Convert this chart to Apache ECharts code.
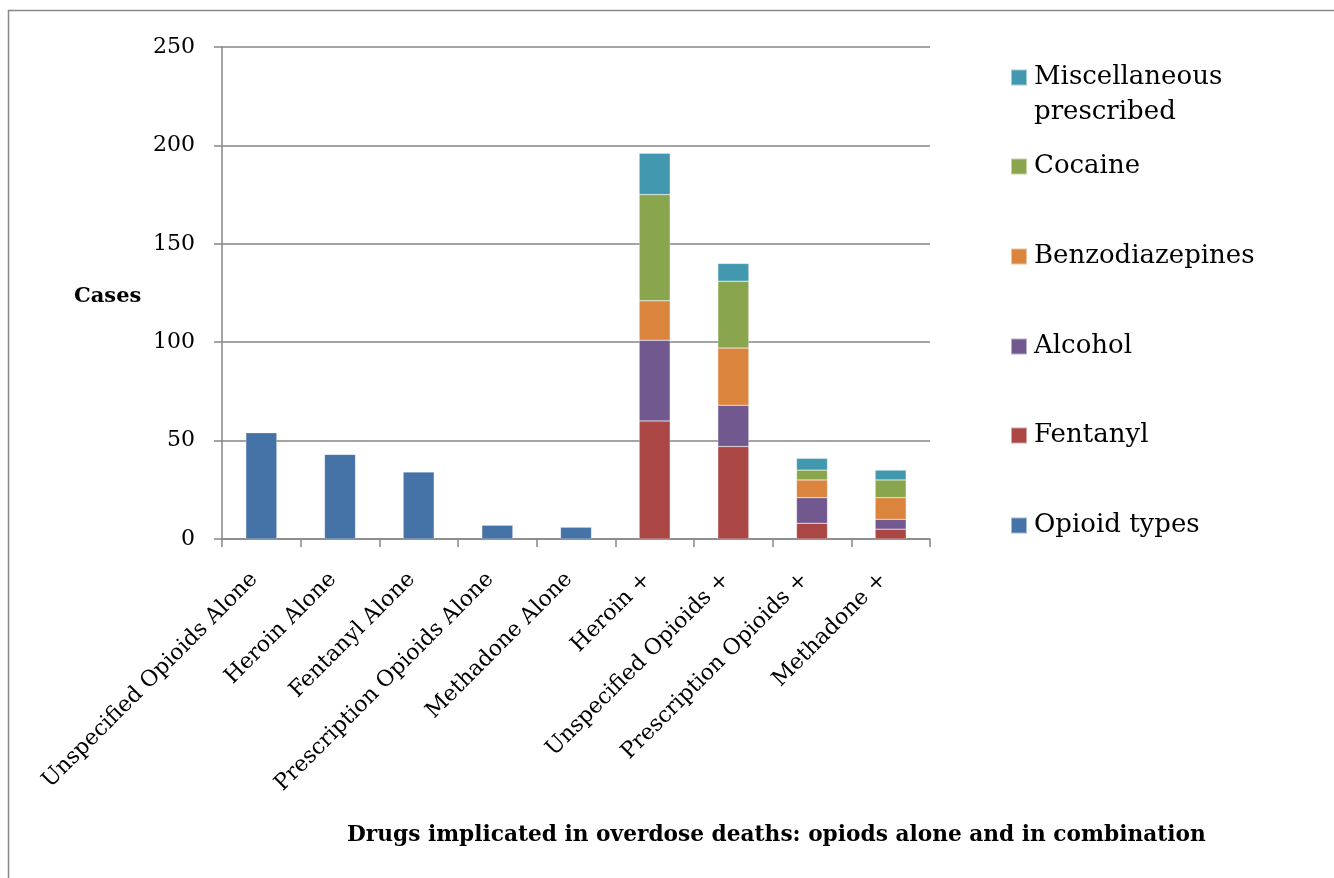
<!DOCTYPE html>
<html>
<head>
<meta charset="utf-8">
<script src="https://cdn.jsdelivr.net/npm/echarts@6/dist/echarts.min.js"></script>
<style>
html,body{margin:0;padding:0;background:#fff;}
#chart{width:1334px;height:878px;}
</style>
</head>
<body>
<div id="chart"></div>
<script>
var categories = ["Unspecified Opioids Alone","Heroin Alone","Fentanyl Alone","Prescription Opioids Alone","Methadone Alone","Heroin +","Unspecified Opioids +","Prescription Opioids +","Methadone +"];
var opioidTypes = [54, 43, 34, 7, 6, null, null, null, null];
var fentanyl = [null, null, null, null, null, 60, 47, 8, 5];
var alcohol = [null, null, null, null, null, 41, 21, 13, 5];
var benzodiazepines = [null, null, null, null, null, 20, 29, 9, 11];
var cocaine = [null, null, null, null, null, 54, 34, 5, 9];
var miscPrescribed = [null, null, null, null, null, 21, 9, 6, 5];
var yTicks = [0, 50, 100, 150, 200, 250];

var FONT = "DejaVu Serif";
var seriesDefs = [
  {name: "Opioid types", data: opioidTypes, color: "#4572A7"},
  {name: "Fentanyl", data: fentanyl, color: "#AA4643"},
  {name: "Alcohol", data: alcohol, color: "#71588F"},
  {name: "Benzodiazepines", data: benzodiazepines, color: "#DB843D"},
  {name: "Cocaine", data: cocaine, color: "#89A54E"},
  {name: "Miscellaneous prescribed", data: miscPrescribed, color: "#4198AF"}
];
var legendTops = {"Miscellaneous prescribed": 60, "Cocaine": 149, "Benzodiazepines": 239, "Alcohol": 329, "Fentanyl": 418, "Opioid types": 508};
var MISC = "Miscellaneous prescribed";

var chart = echarts.init(document.getElementById('chart'), null, {renderer: 'canvas'});
var option = {
  animation: false,
  backgroundColor: '#fff',
  textStyle: {fontFamily: FONT, color: '#000'},
  graphic: [{
    type: 'rect', shape: {x: 8.5, y: 10.5, width: 1500, height: 1000},
    style: {fill: 'none', stroke: '#888', lineWidth: 1.5}, silent: true, z: -1
  }],
  title: [{
    text: "Drugs implicated in overdose deaths: opiods alone and in combination",
    left: 347, top: 824, padding: 0,
    textStyle: {fontFamily: FONT, fontWeight: 'bold', fontSize: 21.7, color: '#000'}
  }, {
    text: "Cases", left: 74, top: 286, padding: 0,
    textStyle: {fontFamily: FONT, fontWeight: 'bold', fontSize: 21, color: '#000'}
  }],
  legend: seriesDefs.map(function (s) {
    var isMisc = s.name === MISC;
    return {
      data: [s.name], left: 1010, top: legendTops[s.name], orient: 'vertical', padding: 0,
      itemWidth: 16, itemHeight: isMisc ? 51 : 16, itemGap: 8,
      icon: isMisc ? 'path://M0,0L16,0L16,16L0,16Z M0,50.9L0.05,50.9L0.05,51L0,51Z' : 'rect',
      selectedMode: false,
      formatter: function (n) { return n === MISC ? "Miscellaneous\nprescribed" : n; },
      textStyle: {fontFamily: FONT, fontSize: 26, color: '#000', lineHeight: 35, padding: [0, 0, 0, 2]}
    };
  }),
  grid: {left: 222, right: 404, top: 47, bottom: 339, containLabel: false},
  xAxis: {
    type: 'category', data: categories,
    axisLine: {lineStyle: {color: '#868686', width: 1.5}},
    axisTick: {show: true, length: 8, lineStyle: {color: '#868686', width: 1.5}},
    axisLabel: {rotate: 45, fontFamily: FONT, fontSize: 22, color: '#000', margin: 30, padding: [0, 10, 0, 0], interval: 0}
  },
  yAxis: {
    type: 'value', min: yTicks[0], max: yTicks[yTicks.length - 1], interval: 50,
    axisLine: {show: true, lineStyle: {color: '#868686', width: 1.5}},
    axisTick: {show: true, length: 8, lineStyle: {color: '#868686', width: 1.5}},
    splitLine: {lineStyle: {color: '#868686', width: 1.5}},
    axisLabel: {fontFamily: FONT, fontSize: 22, color: '#000', margin: 27}
  },
  series: seriesDefs.map(function (s) {
    return {
      name: s.name, type: 'bar', stack: 'total', data: s.data, barWidth: 31,
      itemStyle: {color: s.color, borderColor: 'rgba(255,255,255,0.5)', borderWidth: 0.5}
    };
  })
};
chart.setOption(option);
</script>
</body>
</html>
